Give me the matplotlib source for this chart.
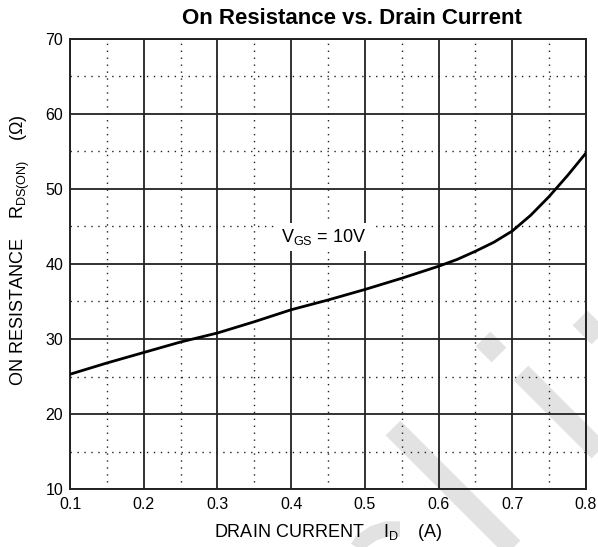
import matplotlib
matplotlib.use("Agg")
import matplotlib.pyplot as plt
from matplotlib.ticker import MultipleLocator

plt.rcParams['font.family'] = ['Liberation Sans', 'DejaVu Sans']
plt.rcParams['mathtext.fontset'] = 'custom'
plt.rcParams['mathtext.rm'] = 'Liberation Sans'
plt.rcParams['mathtext.it'] = 'Liberation Sans'

# drain current (A) vs on resistance (ohm)
drain_current = [0.10, 0.15, 0.20, 0.25, 0.30, 0.35, 0.40, 0.45, 0.50, 0.55,
                 0.60, 0.625, 0.65, 0.675, 0.70, 0.725, 0.75, 0.775, 0.80]
on_resistance = [25.3, 26.8, 28.2, 29.6, 30.8, 32.3, 33.9, 35.2, 36.6, 38.1,
                 39.7, 40.6, 41.7, 42.9, 44.4, 46.5, 49.0, 51.8, 54.8]

x_ticks = [0.1, 0.2, 0.3, 0.4, 0.5, 0.6, 0.7, 0.8]
y_ticks = [10, 20, 30, 40, 50, 60, 70]

W, H = 598, 547
fig = plt.figure(figsize=(W / 100, H / 100), dpi=100)

# faint watermark stripes behind the grid (pixel coords)
bg = fig.add_axes([0, 0, 1, 1], zorder=0)
bg.set_xlim(0, W)
bg.set_ylim(H, 0)
bg.axis('off')
stripes = [((393, 428), (580, 615)),
           ((483, 339), (499, 355)),
           ((521, 373), (680, 532)),
           ((580, 318), (640, 378))]
for (x0, y0), (x1, y1) in stripes:
    bg.plot([x0, x1], [y0, y1], color='#e2e2e2', lw=15, solid_capstyle='butt')
bg.plot([352, 362, 374, 387, 400], [556, 541, 533, 529, 529],
        color='#e2e2e2', lw=11, solid_capstyle='butt')

ax = fig.add_axes([70 / W, 1 - 489 / H, 516 / W, 450 / H], zorder=1)
ax.patch.set_alpha(0)

ax.set_xlim(0.1, 0.8)
ax.set_ylim(10, 70)
ax.set_xticks(x_ticks)
ax.set_yticks(y_ticks)
ax.xaxis.set_minor_locator(MultipleLocator(0.05))
ax.yaxis.set_minor_locator(MultipleLocator(5))
ax.grid(True, which='major', color='#222222', lw=1.3)
ax.grid(True, which='minor', color='#222222', lw=1.0, linestyle=(0, (1, 4)))
ax.tick_params(which='both', length=0)
ax.tick_params(axis='x', pad=6, labelsize=11.5)
ax.tick_params(axis='y', pad=5, labelsize=11.5)
for s in ax.spines.values():
    s.set_linewidth(1.4)
    s.set_color('#222222')

ax.plot(drain_current, on_resistance, color='black', lw=2.0, zorder=3)

ax.text(0.4446, 43.6, r'V$_{\mathrm{GS}}$ = 10V', fontsize=13,
        ha='center', va='center', zorder=4,
        bbox=dict(facecolor='white', edgecolor='none', pad=3))

ax.set_xlabel(r'DRAIN CURRENT    I$_{\mathrm{D}}$    (A)', fontsize=13)
ax.xaxis.set_label_coords(0.5, -0.074)
ax.set_ylabel(r'ON RESISTANCE    R$_{\mathrm{DS(ON)}}$    ($\Omega$)', fontsize=13)
ax.yaxis.set_label_coords(-0.073, 0.53)
fig.text(352 / W, 1 - 19 / H, 'On Resistance vs. Drain Current',
         fontsize=16, fontweight='bold', ha='center', va='center')

fig.savefig('out.png', dpi=100)
